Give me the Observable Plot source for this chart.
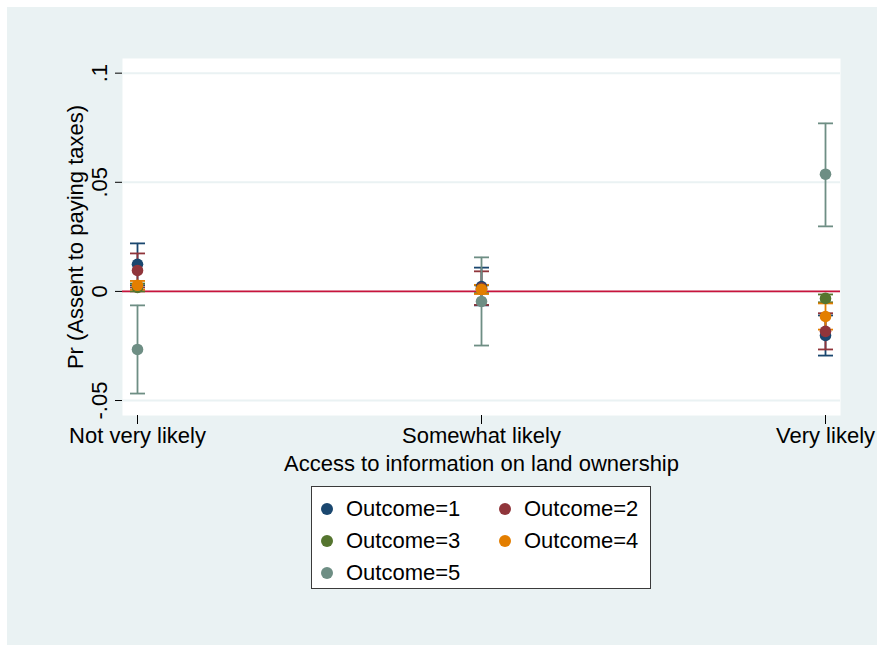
<!DOCTYPE html>
<html>
<head>
<meta charset="utf-8">
<script src="https://cdn.jsdelivr.net/npm/d3@7"></script>
<script src="https://cdn.jsdelivr.net/npm/@observablehq/plot@0.6"></script>
<style>
  html, body { margin: 0; padding: 0; background: #ffffff; }
  #wrap { position: relative; width: 878px; height: 646px; background: #ffffff; }
  #chart { position: absolute; left: 7px; top: 7px; }
  #legend {
    position: absolute; left: 311px; top: 486px; width: 340px; height: 103px;
    background: #ffffff; border: 1px solid #3a3a3a;
    font-family: "Liberation Sans", Arial, Helvetica, sans-serif; font-size: 22px; color: #000;
    display: grid; grid-template-columns: 178px 160px; grid-auto-rows: 32px; padding-top: 6px; box-sizing: border-box;
  }
  #legend .item { display: flex; align-items: center; padding-left: 9px; }
  #legend .sw { width: 12px; height: 12px; border-radius: 50%; margin-right: 13px; flex: none; }
</style>
</head>
<body>
<div id="wrap">
  <div id="chart"></div>
  <div id="legend"></div>
</div>
<script>
// ---- data ----
const categories = ["Not very likely", "Somewhat likely", "Very likely"];
const outcomes = ["Outcome=1", "Outcome=2", "Outcome=3", "Outcome=4", "Outcome=5"];
const colors = ["#1a476f", "#90353b", "#55752f", "#e37e00", "#6e8e84"];

const est1 = [0.0124, 0.0022, -0.0202];
const lo1  = [0.0028, -0.0064, -0.0294];
const hi1  = [0.0220, 0.0109, -0.0110];

const est2 = [0.0096, 0.0015, -0.0183];
const lo2  = [0.0018, -0.0062, -0.0266];
const hi2  = [0.0174, 0.0092, -0.0100];

const est3 = [0.0018, 0.0010, -0.0032];
const lo3  = [0.0000, -0.0008, -0.0050];
const hi3  = [0.0036, 0.0028, -0.0014];

const est4 = [0.0028, 0.0009, -0.0115];
const lo4  = [0.0008, -0.0012, -0.0175];
const hi4  = [0.0048, 0.0030, -0.0055];

const est5 = [-0.0266, -0.0046, 0.0537];
const lo5  = [-0.0468, -0.0248, 0.0298];
const hi5  = [-0.0064, 0.0156, 0.0770];

const yTicks = [-0.05, 0, 0.05, 0.1];
const yTickLabels = ["-.05", "0", ".05", ".1"];
const yTitle = "Pr (Assent to paying taxes)";
const xTitle = "Access to information on land ownership";

// ---- build table ----
const ests = [est1, est2, est3, est4, est5];
const los = [lo1, lo2, lo3, lo4, lo5];
const his = [hi1, hi2, hi3, hi4, hi5];
const rows = [];
outcomes.forEach((o, i) => {
  categories.forEach((c, j) => {
    rows.push({outcome: o, cat: c, est: ests[i][j], lo: los[i][j], hi: his[i][j], order: i});
  });
});

const capSymbol = {
  draw(context, size) {
    const w = Math.sqrt(size / Math.PI);
    context.moveTo(-w, 0);
    context.lineTo(w, 0);
  }
};

const font = "Liberation Sans, Arial, Helvetica, sans-serif";

const marks = [
  Plot.frame({fill: "#ffffff", stroke: null}),
  Plot.gridY(yTicks, {stroke: "#eaf2f3", strokeOpacity: 1, strokeWidth: 2}),
  Plot.ruleY([0], {stroke: "#c8143c", strokeWidth: 1.8}),
  Plot.axisY({ticks: yTicks, tickFormat: () => "", tickSize: 7, line: true, stroke: "#000", label: null}),
  Plot.text(yTicks, {y: d => d, text: (d, i) => yTickLabels[i], frameAnchor: "left", dx: -23, rotate: -90,
    textAnchor: "middle", lineAnchor: "middle", fontSize: 22, fill: "#000"}),
  Plot.text([yTitle], {text: d => d, frameAnchor: "left", dx: -47, rotate: -90,
    textAnchor: "middle", lineAnchor: "middle", fontSize: 22, fill: "#000"}),
  Plot.axisX({tickSize: 9, tickPadding: 3, line: true, stroke: "#000", fontSize: 22, label: null, color: "#000"}),
  Plot.text([xTitle], {text: d => d, frameAnchor: "bottom", dy: 48,
    textAnchor: "middle", lineAnchor: "middle", fontSize: 22, fill: "#000"})
];

outcomes.forEach((o, i) => {
  const sub = rows.filter(r => r.order === i);
  marks.push(Plot.ruleX(sub, {x: "cat", y1: "lo", y2: "hi", stroke: colors[i], strokeWidth: 1.8}));
  marks.push(Plot.dot(sub, {x: "cat", y: "lo", symbol: capSymbol, r: 7.5, stroke: colors[i], strokeWidth: 1.8, fill: "none"}));
  marks.push(Plot.dot(sub, {x: "cat", y: "hi", symbol: capSymbol, r: 7.5, stroke: colors[i], strokeWidth: 1.8, fill: "none"}));
});
outcomes.forEach((o, i) => {
  const sub = rows.filter(r => r.order === i);
  marks.push(Plot.dot(sub, {x: "cat", y: "est", r: 5.8, fill: colors[i], stroke: "none"}));
});

const chart = Plot.plot({
  width: 870,
  height: 638,
  marginLeft: 115,
  marginRight: 37,
  marginTop: 51,
  marginBottom: 230,
  style: {background: "#eaf2f3", fontFamily: font, color: "#000", overflow: "visible"},
  x: {type: "point", domain: categories, padding: 0.0435},
  y: {domain: [-0.05686, 0.10672]},
  marks
});
document.getElementById("chart").appendChild(chart);

// ---- legend ----
const legend = document.getElementById("legend");
outcomes.forEach((o, i) => {
  const item = document.createElement("div");
  item.className = "item";
  const sw = document.createElement("span");
  sw.className = "sw";
  sw.style.background = colors[i];
  const t = document.createElement("span");
  t.textContent = o;
  item.appendChild(sw);
  item.appendChild(t);
  legend.appendChild(item);
});
</script>
</body>
</html>
